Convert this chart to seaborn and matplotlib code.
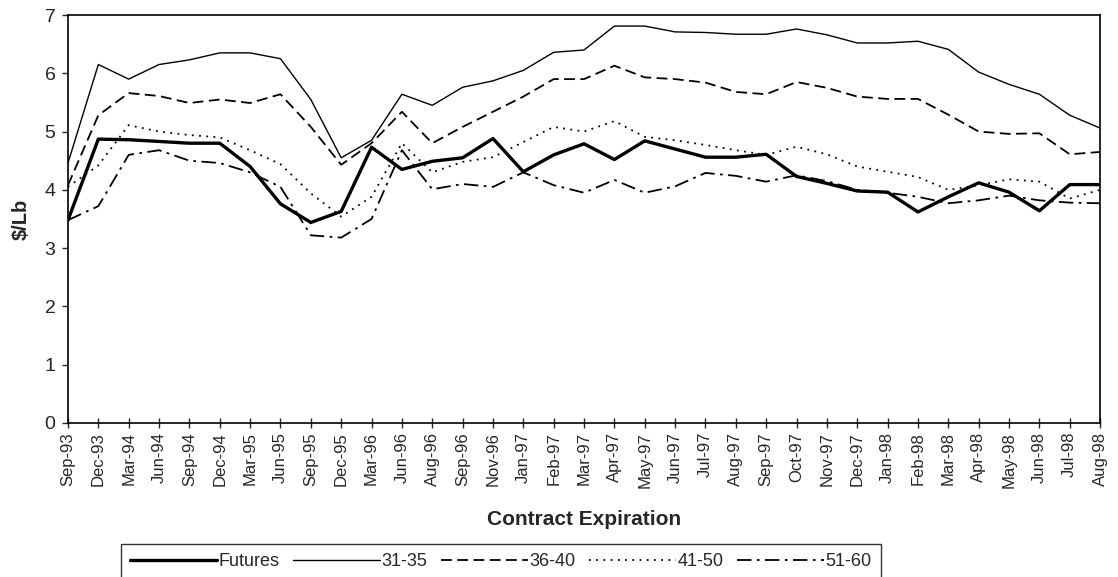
import pandas as pd
import matplotlib.pyplot as plt
import seaborn as sns

sns.set_theme(style="white")
plt.rcParams['font.family'] = ['Liberation Sans', 'DejaVu Sans']

# contract expirations (x categories)
months = ['Sep-93', 'Dec-93', 'Mar-94', 'Jun-94', 'Sep-94', 'Dec-94', 'Mar-95', 'Jun-95',
          'Sep-95', 'Dec-95', 'Mar-96', 'Jun-96', 'Aug-96', 'Sep-96', 'Nov-96', 'Jan-97',
          'Feb-97', 'Mar-97', 'Apr-97', 'May-97', 'Jun-97', 'Jul-97', 'Aug-97', 'Sep-97',
          'Oct-97', 'Nov-97', 'Dec-97', 'Jan-98', 'Feb-98', 'Mar-98', 'Apr-98', 'May-98',
          'Jun-98', 'Jul-98', 'Aug-98']

# $/Lb values
futures = [3.48, 4.87, 4.86, 4.83, 4.80, 4.80, 4.40, 3.76, 3.44, 3.63, 4.73, 4.35, 4.49, 4.55,
           4.88, 4.31, 4.60, 4.79, 4.52, 4.84, 4.70, 4.56, 4.56, 4.61, 4.23, 4.11, 3.98, 3.96,
           3.62, 3.88, 4.12, 3.96, 3.64, 4.09, 4.09]
s31_35 = [4.46, 6.15, 5.90, 6.15, 6.23, 6.35, 6.35, 6.25, 5.55, 4.55, 4.85, 5.64, 5.45, 5.76,
          5.87, 6.05, 6.36, 6.40, 6.81, 6.81, 6.71, 6.70, 6.67, 6.67, 6.76, 6.66, 6.52, 6.52,
          6.55, 6.41, 6.02, 5.81, 5.64, 5.28, 5.06]
s36_40 = [4.08, 5.28, 5.66, 5.61, 5.49, 5.55, 5.49, 5.64, 5.08, 4.43, 4.80, 5.34, 4.80, 5.08,
          5.34, 5.60, 5.90, 5.90, 6.13, 5.93, 5.90, 5.84, 5.68, 5.64, 5.85, 5.75, 5.60, 5.56,
          5.56, 5.29, 5.00, 4.96, 4.97, 4.61, 4.65]
s41_50 = [4.05, 4.42, 5.11, 5.00, 4.94, 4.90, 4.68, 4.44, 3.94, 3.54, 3.88, 4.80, 4.30, 4.48,
          4.56, 4.82, 5.08, 5.00, 5.18, 4.91, 4.85, 4.77, 4.68, 4.60, 4.74, 4.61, 4.40, 4.31,
          4.22, 4.00, 4.08, 4.18, 4.14, 3.85, 4.00]
s51_60 = [3.48, 3.72, 4.60, 4.68, 4.50, 4.46, 4.30, 4.05, 3.22, 3.18, 3.50, 4.68, 4.01, 4.10,
          4.05, 4.30, 4.08, 3.95, 4.17, 3.95, 4.06, 4.29, 4.24, 4.14, 4.25, 4.15, 4.00, 3.95,
          3.88, 3.77, 3.82, 3.90, 3.82, 3.78, 3.77]

series_names = ['Futures', '31-35', '36-40', '41-50', '51-60']
series_vals = [futures, s31_35, s36_40, s41_50, s51_60]
styles = ['-', '-', (0, (6, 3)), (0, (1, 3)), (0, (8, 3, 1.5, 3))]
widths = [2.4, 1.0, 1.3, 1.3, 1.3]

fig = plt.figure(figsize=(11.18, 5.77), dpi=100)
ax = fig.add_axes([0.0608, 0.267, 0.9232, 0.707])

for name, vals, ls, lw in zip(series_names, series_vals, styles, widths):
    sns.lineplot(x=months, y=vals, ax=ax, color='black', linestyle=ls, linewidth=lw,
                 label=name, sort=False)

ax.set_xlim(0, len(months) - 1)
ax.set_ylim(0, 7)
ax.set_yticks(range(0, 8))
ax.set_xticks(range(len(months)))
ax.set_xticklabels(months, rotation=90)
ax.tick_params(axis='x', direction='inout', length=7, width=1, labelsize=12, pad=3, bottom=True)
ax.tick_params(axis='y', direction='out', length=4, width=1, labelsize=14, pad=5, left=True)
for sp in ax.spines.values():
    sp.set_color('black')
    sp.set_linewidth(1.2)
ax.grid(False)

ax.set_xlabel('Contract Expiration', fontsize=15, fontweight='bold', labelpad=16)
ax.set_ylabel('$/Lb', fontsize=14.5, fontweight='bold', labelpad=10)

ax.get_legend().remove()
handles, labels = ax.get_legend_handles_labels()
leg = fig.legend(handles, labels, loc='upper center', bbox_to_anchor=(0.448, 0.073), ncol=5,
                 fontsize=13, frameon=True, fancybox=False, handlelength=4.8,
                 handletextpad=0.1, columnspacing=0.75, borderpad=0.5)
leg.get_frame().set_edgecolor('black')
leg.get_frame().set_linewidth(1.0)

fig.savefig('out.png', dpi=100)
